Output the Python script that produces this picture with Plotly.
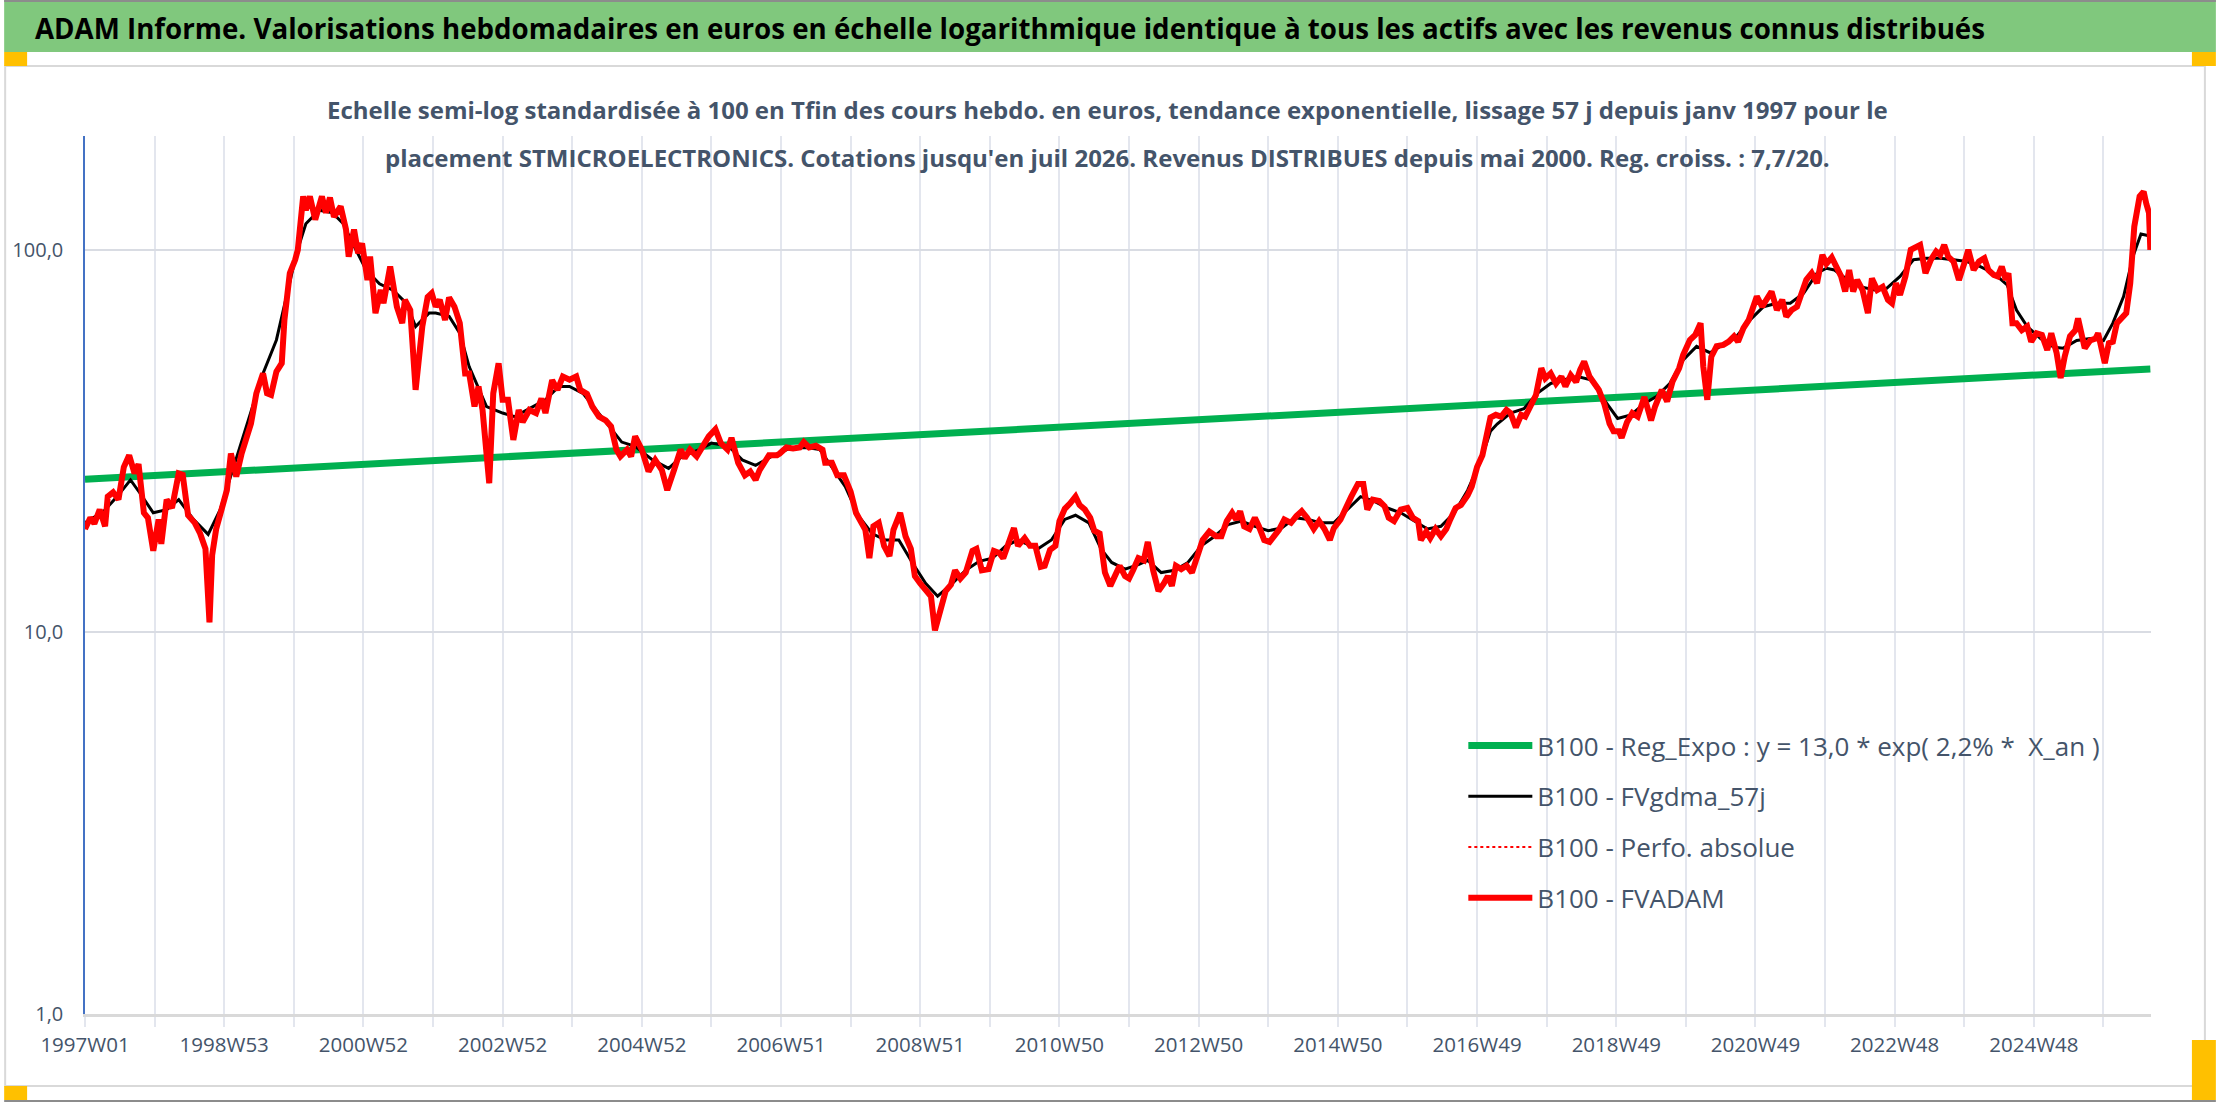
import plotly.graph_objects as go

# ---------------- data ----------------
tick_labels = ["1997W01", "1998W53", "2000W52", "2002W52", "2004W52", "2006W51",
               "2008W51", "2010W50", "2012W50", "2014W50", "2016W49", "2018W49",
               "2020W49", "2022W48", "2024W48"]

# week index since 1997W01
fvadam_weeks = [0, 4, 7, 11, 15, 17, 21, 25, 29, 33, 37, 40, 44, 47, 51, 55, 57, 61, 65, 67, 70, 73, 77, 82, 86, 90, 93, 95, 98,
    102, 106, 109, 113, 117, 121, 124, 128, 133, 136, 139, 143, 147, 149, 153, 157, 159, 163, 165, 168, 172, 177, 180, 183, 186,
    191, 195, 197, 201, 204, 207, 211, 213, 217, 221, 223, 228, 233, 237, 239, 243, 247, 252, 256, 259, 262, 265, 269, 272, 276,
    280, 284, 287, 291, 294, 297, 300, 302, 305, 309, 312, 316, 320, 324, 327, 332, 337, 341, 344, 349, 353, 357, 362, 367, 370,
    375, 379, 384, 389, 393, 397, 400, 405, 408, 411, 416, 421, 426, 431, 435, 440, 445, 448, 452, 457, 461, 466, 471, 475, 480,
    483, 488, 493, 497, 501, 504, 511, 517, 519, 524, 529, 534, 537, 541, 546, 551, 553, 558, 562, 567, 572, 576, 580, 583, 586,
    589, 593, 597, 601, 604, 609, 613, 617, 620, 624, 628, 632, 635, 639, 643, 647, 650, 654, 658, 663, 666, 670, 675, 679, 683,
    686, 690, 694, 697, 702, 706, 710, 714, 717, 721, 725, 728, 732, 736, 740, 743, 747, 751, 754, 758, 762, 766, 769, 773, 777,
    780, 783, 787, 791, 794, 798, 802, 806, 809, 812, 815, 819, 823, 827, 830, 835, 840, 845, 849, 853, 857, 860, 863, 866, 870,
    874, 877, 881, 885, 889, 892, 896, 901, 905, 909, 913, 918, 922, 926, 930, 933, 938, 942, 946, 951, 955, 958, 962, 967, 971,
    974, 978, 983, 988, 992, 996, 998, 1002, 1005, 1009, 1013, 1017, 1020, 1024, 1028, 1033, 1036, 1040, 1044, 1047, 1050, 1054,
    1058, 1062, 1065, 1069, 1073, 1076, 1080, 1084, 1088, 1091, 1095, 1099, 1103, 1106, 1110, 1114, 1117, 1120, 1124, 1127, 1131,
    1135, 1139, 1142, 1146, 1148, 1152, 1156, 1160, 1165, 1170, 1173, 1178, 1182, 1186, 1191, 1194, 1199, 1203, 1207, 1209, 1212,
    1215, 1219, 1224, 1228, 1232, 1235, 1239, 1243, 1246, 1249, 1253, 1256, 1260, 1264, 1268, 1271, 1275, 1279, 1282, 1286, 1290,
    1294, 1298, 1301, 1305, 1308, 1312, 1315, 1318, 1321, 1324, 1328, 1332, 1335, 1339, 1343, 1347, 1350, 1353, 1356, 1360, 1364,
    1369, 1371, 1375, 1379, 1383, 1386, 1389, 1392, 1396, 1400, 1404, 1407, 1411, 1415, 1419, 1422, 1426, 1429, 1432, 1435, 1437,
    1440, 1443, 1447, 1451, 1454, 1458, 1462, 1466, 1469, 1473, 1476, 1479, 1483, 1487, 1489, 1492, 1494, 1498, 1502, 1504, 1507,
    1509, 1512, 1515, 1518, 1522, 1525, 1528, 1531, 1535, 1538, 1540, 1542, 1543]
fvadam_values = [18.6, 19.9, 19.2, 20.9, 18.9, 22.6, 23.2, 22.2, 27.0, 29.0, 26.0, 27.5, 20.5, 19.9, 16.3, 19.7, 17.0, 22.2, 21.1,
    23.5, 26.0, 25.8, 20.2, 19.3, 18.1, 16.5, 10.6, 15.9, 18.6, 20.9, 23.5, 29.3, 25.5, 29.3, 33.1, 35.1, 42.1, 47.5, 42.1, 41.7,
    48.0, 50.5, 65.6, 86.9, 94.2, 100.0, 138.0, 127.0, 138.0, 120.0, 138.0, 125.0, 137.0, 122.0, 130.0, 113.0, 96.0, 113.0, 98.0,
    104.0, 83.4, 96.0, 68.3, 78.5, 72.5, 90.4, 71.0, 64.3, 74.0, 69.6, 43.0, 63.0, 75.3, 77.0, 71.0, 74.0, 65.5, 75.0, 71.0, 64.3,
    47.5, 47.5, 38.9, 43.9, 38.1, 30.0, 24.5, 42.1, 50.5, 40.5, 40.5, 31.8, 38.1, 35.4, 38.1, 37.4, 40.8, 37.4, 45.6, 43.0, 46.6,
    45.7, 46.6, 43.0, 42.0, 38.9, 36.6, 35.8, 34.5, 30.0, 28.8, 30.0, 28.8, 32.5, 30.0, 26.3, 28.2, 26.5, 23.5, 26.5, 30.0, 28.5,
    30.0, 28.8, 30.2, 32.5, 33.9, 31.2, 30.0, 32.2, 27.7, 25.7, 26.3, 25.0, 26.5, 29.0, 29.0, 29.3, 30.4, 30.2, 30.4, 31.4, 30.4,
    30.7, 30.0, 27.7, 27.7, 25.7, 25.7, 23.3, 20.5, 19.1, 18.5, 15.6, 18.9, 19.3, 16.8, 15.8, 18.5, 20.5, 17.8, 16.5, 14.0, 13.4,
    12.8, 12.4, 10.1, 11.2, 12.8, 13.3, 14.5, 13.8, 14.3, 16.3, 16.5, 14.5, 14.6, 16.3, 16.1, 15.6, 17.2, 18.7, 16.8, 17.6, 16.8,
    16.8, 14.8, 14.9, 16.4, 16.8, 19.5, 21.0, 21.7, 22.6, 21.5, 20.9, 19.9, 18.4, 18.1, 14.3, 13.2, 14.0, 14.9, 14.0, 13.8, 14.5,
    15.6, 15.4, 17.2, 14.5, 12.8, 13.4, 14.0, 13.2, 14.9, 14.6, 14.9, 14.3, 15.4, 17.4, 18.3, 17.8, 17.8, 19.5, 20.5, 19.7, 20.7,
    18.9, 18.6, 19.9, 18.9, 17.4, 17.2, 17.9, 18.5, 19.7, 19.3, 20.1, 20.7, 19.9, 18.6, 19.5, 18.6, 17.4, 18.7, 19.7, 21.2, 22.6,
    24.4, 24.4, 20.9, 22.2, 22.0, 21.3, 19.9, 19.5, 20.9, 21.1, 19.9, 19.5, 17.4, 18.3, 17.6, 18.6, 17.8, 18.6, 19.7, 21.1, 21.5,
    22.8, 24.0, 27.0, 29.0, 32.8, 36.4, 37.0, 36.6, 38.1, 37.4, 34.3, 37.0, 36.6, 39.3, 41.7, 49.0, 46.1, 47.5, 44.7, 46.6, 43.9,
    47.0, 45.1, 48.5, 51.0, 46.6, 45.2, 43.0, 39.6, 35.1, 33.5, 33.5, 32.2, 35.4, 37.4, 36.6, 41.2, 35.8, 38.9, 43.0, 40.1, 45.2,
    49.0, 53.1, 58.1, 59.9, 64.3, 49.5, 40.5, 52.5, 56.0, 56.4, 57.5, 59.4, 57.5, 62.4, 65.6, 71.0, 75.5, 71.0, 74.0, 77.8, 69.6,
    74.0, 66.9, 69.6, 71.0, 75.5, 83.5, 86.9, 81.8, 97.0, 92.0, 95.5, 90.4, 85.2, 77.8, 88.6, 77.8, 83.4, 78.5, 68.3, 84.2, 78.5,
    80.0, 74.0, 72.5, 81.8, 76.2, 85.2, 100.0, 102.0, 103.0, 86.9, 94.2, 99.0, 97.0, 103.0, 96.0, 93.2, 83.4, 92.2, 100.0, 88.6,
    93.2, 95.1, 88.6, 86.0, 85.2, 90.4, 83.4, 86.9, 64.3, 64.3, 61.6, 63.0, 57.5, 60.5, 59.9, 54.7, 60.5, 53.7, 46.2, 52.5, 59.4,
    61.6, 66.2, 59.4, 55.3, 57.9, 58.6, 60.5, 53.7, 50.5, 57.0, 57.5, 64.3, 66.9, 68.3, 81.8, 115.0, 138.0, 142.0, 132.0, 125.0,
    100.0]

fvgdma_weeks = [0, 14, 24, 34, 41, 51, 61, 70, 81, 92, 101, 111, 123, 133, 143, 150, 158, 165, 175, 185, 193, 200, 210, 220, 230,
    240, 247, 257, 262, 272, 280, 287, 300, 312, 321, 332, 344, 354, 362, 372, 382, 392, 401, 411, 424, 436, 446, 459, 468, 481,
    491, 501, 513, 526, 539, 549, 558, 568, 578, 588, 598, 608, 618, 628, 637, 648, 658, 668, 678, 688, 697, 712, 722, 732, 740,
    750, 759, 767, 777, 787, 794, 804, 814, 824, 834, 844, 854, 864, 874, 884, 894, 904, 914, 923, 933, 943, 953, 963, 973, 983,
    993, 1003, 1013, 1023, 1033, 1043, 1050, 1055, 1065, 1075, 1085, 1095, 1105, 1115, 1125, 1135, 1145, 1155, 1165, 1174, 1184,
    1194, 1204, 1214, 1224, 1234, 1244, 1254, 1264, 1274, 1284, 1294, 1301, 1307, 1317, 1327, 1337, 1346, 1356, 1366, 1376, 1386,
    1396, 1406, 1416, 1426, 1436, 1443, 1451, 1461, 1471, 1478, 1488, 1498, 1508, 1515, 1523, 1530, 1536, 1541]
fvgdma_values = [19.3, 20.7, 22.6, 25.0, 23.1, 20.5, 20.9, 22.2, 19.7, 18.0, 20.9, 27.0, 36.5, 47.5, 58.1, 74.0, 98.0, 117.0, 127.0,
    125.0, 117.0, 104.0, 88.6, 81.5, 78.5, 72.5, 63.0, 68.3, 68.3, 67.0, 60.5, 49.5, 38.9, 37.4, 36.6, 38.4, 40.5, 43.9, 43.9, 42.1,
    38.1, 34.5, 31.4, 30.6, 28.2, 26.8, 28.8, 30.0, 31.2, 30.6, 28.2, 27.3, 28.8, 30.2, 30.4, 30.0, 27.0, 24.0, 20.1, 18.1, 17.4,
    17.4, 15.2, 13.4, 12.4, 13.4, 14.5, 15.3, 15.6, 16.8, 17.4, 16.5, 17.4, 19.7, 20.2, 19.3, 16.5, 15.2, 14.6, 15.0, 15.4, 14.3,
    14.5, 15.2, 16.8, 17.8, 19.1, 19.5, 18.9, 18.4, 18.7, 19.9, 19.7, 19.3, 19.3, 20.9, 22.6, 22.0, 21.1, 20.5, 19.5, 18.6, 18.9,
    20.5, 23.5, 28.2, 33.5, 35.0, 37.4, 38.4, 42.1, 44.7, 45.7, 46.6, 45.7, 40.5, 36.2, 37.0, 39.6, 41.3, 44.7, 51.5, 55.9, 53.8,
    56.5, 59.4, 65.6, 71.0, 72.5, 72.5, 77.0, 86.9, 89.5, 88.6, 83.4, 80.0, 78.5, 79.3, 85.2, 94.2, 95.1, 95.1, 94.2, 93.2, 90.4,
    86.9, 81.0, 69.6, 63.0, 58.6, 55.6, 55.3, 57.9, 58.6, 57.9, 64.3, 75.5, 96.0, 110.0, 109.0]

reg_weeks = [0, 1543]
reg_values = [25.1, 48.8]

# ---------------- layout helpers (pixel -> paper) ----------------
W, H = 2216, 1102
ML, MR, MT, MB = 81, 65, 136, 88
PW, PH = W - ML - MR, H - MT - MB

def px(x):
    return (x - ML) / PW

def py(y):
    return (H - MB - y) / PH

TXT = "#44546A"
FONT = "Open Sans, Noto Sans, DejaVu Sans, sans-serif"

fig = go.Figure()
fig.add_trace(go.Scatter(x=reg_weeks, y=reg_values, mode="lines",
    name="B100 - Reg_Expo : y = 13,0 * exp( 2,2% *  X_an )",
    line=dict(color="#00B050", width=7), legendgroup="a"))
fig.add_trace(go.Scatter(x=fvgdma_weeks, y=fvgdma_values, mode="lines",
    name="B100 - FVgdma_57j", line=dict(color="#000000", width=3), legendgroup="b"))
fig.add_trace(go.Scatter(x=fvadam_weeks, y=fvadam_values, mode="lines",
    name="B100 - Perfo. absolue", line=dict(color="#FF0000", width=2, dash="dot"), legendgroup="c"))
fig.add_trace(go.Scatter(x=fvadam_weeks, y=fvadam_values, mode="lines",
    name="B100 - FVADAM", line=dict(color="#FF0000", width=6), legendgroup="d"))

grid_c = "#E3E6EE"
fig.update_xaxes(
    range=[0, 1543.5], showline=True, linecolor="#D9D9D9", linewidth=3,
    tickvals=[i * 104 for i in range(len(tick_labels))], ticktext=tick_labels,
    ticks="outside", ticklen=10, tickcolor=grid_c, tickwidth=1.5,
    showgrid=True, gridcolor=grid_c, gridwidth=1.5, zeroline=False,
    tickfont=dict(family=FONT, size=20.5, color=TXT),
    minor=dict(tickvals=[52 + i * 104 for i in range(15)], ticks="outside", ticklen=10,
               tickcolor=grid_c, tickwidth=1.5, showgrid=True, gridcolor=grid_c, gridwidth=1.5),
)
fig.update_yaxes(
    type="log", range=[0, 2.298], showline=True, linecolor="#4472C4", linewidth=1.5,
    tickvals=[1, 10, 100], ticktext=["1,0", "10,0", "100,0"], ticks="",
    showgrid=True, gridcolor="#D9DCE3", gridwidth=2, zeroline=False,
    tickfont=dict(family=FONT, size=20, color=TXT), ticklabelstandoff=16,
)

shapes = [
    # green title band
    dict(type="rect", xref="paper", yref="paper", x0=px(0), x1=px(W), y0=py(52), y1=py(0),
         fillcolor="#80C87D", line=dict(width=0), layer="below"),
    # frame lines
    dict(type="line", xref="paper", yref="paper", x0=px(0), x1=px(W), y0=py(1), y1=py(1),
         line=dict(color="#8C8C8C", width=2)),
    dict(type="line", xref="paper", yref="paper", x0=px(0), x1=px(W), y0=py(1101), y1=py(1101),
         line=dict(color="#8C8C8C", width=2)),
    dict(type="rect", xref="paper", yref="paper", x0=px(1), x1=px(2205), y0=py(1086), y1=py(66),
         fillcolor="rgba(0,0,0,0)", line=dict(color="#D9D9D9", width=2), layer="below"),
    # gold corner marks
    dict(type="rect", xref="paper", yref="paper", x0=px(0), x1=px(23), y0=py(66), y1=py(52),
         fillcolor="#FFC000", line=dict(width=0)),
    dict(type="rect", xref="paper", yref="paper", x0=px(2192), x1=px(W), y0=py(66), y1=py(52),
         fillcolor="#FFC000", line=dict(width=0)),
    dict(type="rect", xref="paper", yref="paper", x0=px(0), x1=px(23), y0=py(1100), y1=py(1086),
         fillcolor="#FFC000", line=dict(width=0)),
    dict(type="rect", xref="paper", yref="paper", x0=px(2192), x1=px(W), y0=py(1100), y1=py(1040),
         fillcolor="#FFC000", line=dict(width=0)),
]

annotations = [
    dict(text="<b>ADAM Informe. Valorisations hebdomadaires en euros en échelle logarithmique identique à tous les actifs avec les revenus connus distribués</b>",
         xref="paper", yref="paper", x=px(29), y=py(28), xanchor="left", yanchor="middle",
         showarrow=False, font=dict(family=FONT, size=27.7, color="#000000")),
    dict(text="<b>Echelle semi-log standardisée à 100 en Tfin des cours hebdo. en euros, tendance exponentielle, lissage 57 j depuis janv 1997 pour le</b>",
         xref="paper", yref="paper", x=px(1105), y=py(110), xanchor="center", yanchor="middle",
         showarrow=False, font=dict(family=FONT, size=24, color=TXT)),
    dict(text="<b>placement STMICROELECTRONICS. Cotations jusqu'en juil 2026. Revenus DISTRIBUES depuis mai 2000. Reg. croiss. : 7,7/20.</b>",
         xref="paper", yref="paper", x=px(1105), y=py(157), xanchor="center", yanchor="middle",
         showarrow=False, font=dict(family=FONT, size=24, color=TXT)),
]

fig.update_layout(
    width=W, height=H, autosize=False,
    margin=dict(l=ML, r=MR, t=MT, b=MB, pad=0),
    paper_bgcolor="#FFFFFF", plot_bgcolor="#FFFFFF",
    shapes=shapes, annotations=annotations,
    legend=dict(x=px(1462), y=py(722), xanchor="left", yanchor="top",
                font=dict(family=FONT, size=26, color=TXT), bgcolor="rgba(255,255,255,0)",
                traceorder="grouped", tracegroupgap=14, itemwidth=64),
    showlegend=True,
)

fig.write_html("out.html", config={"displayModeBar": False},
               post_script="document.body.style.margin='0px';document.body.style.overflow='hidden';")
